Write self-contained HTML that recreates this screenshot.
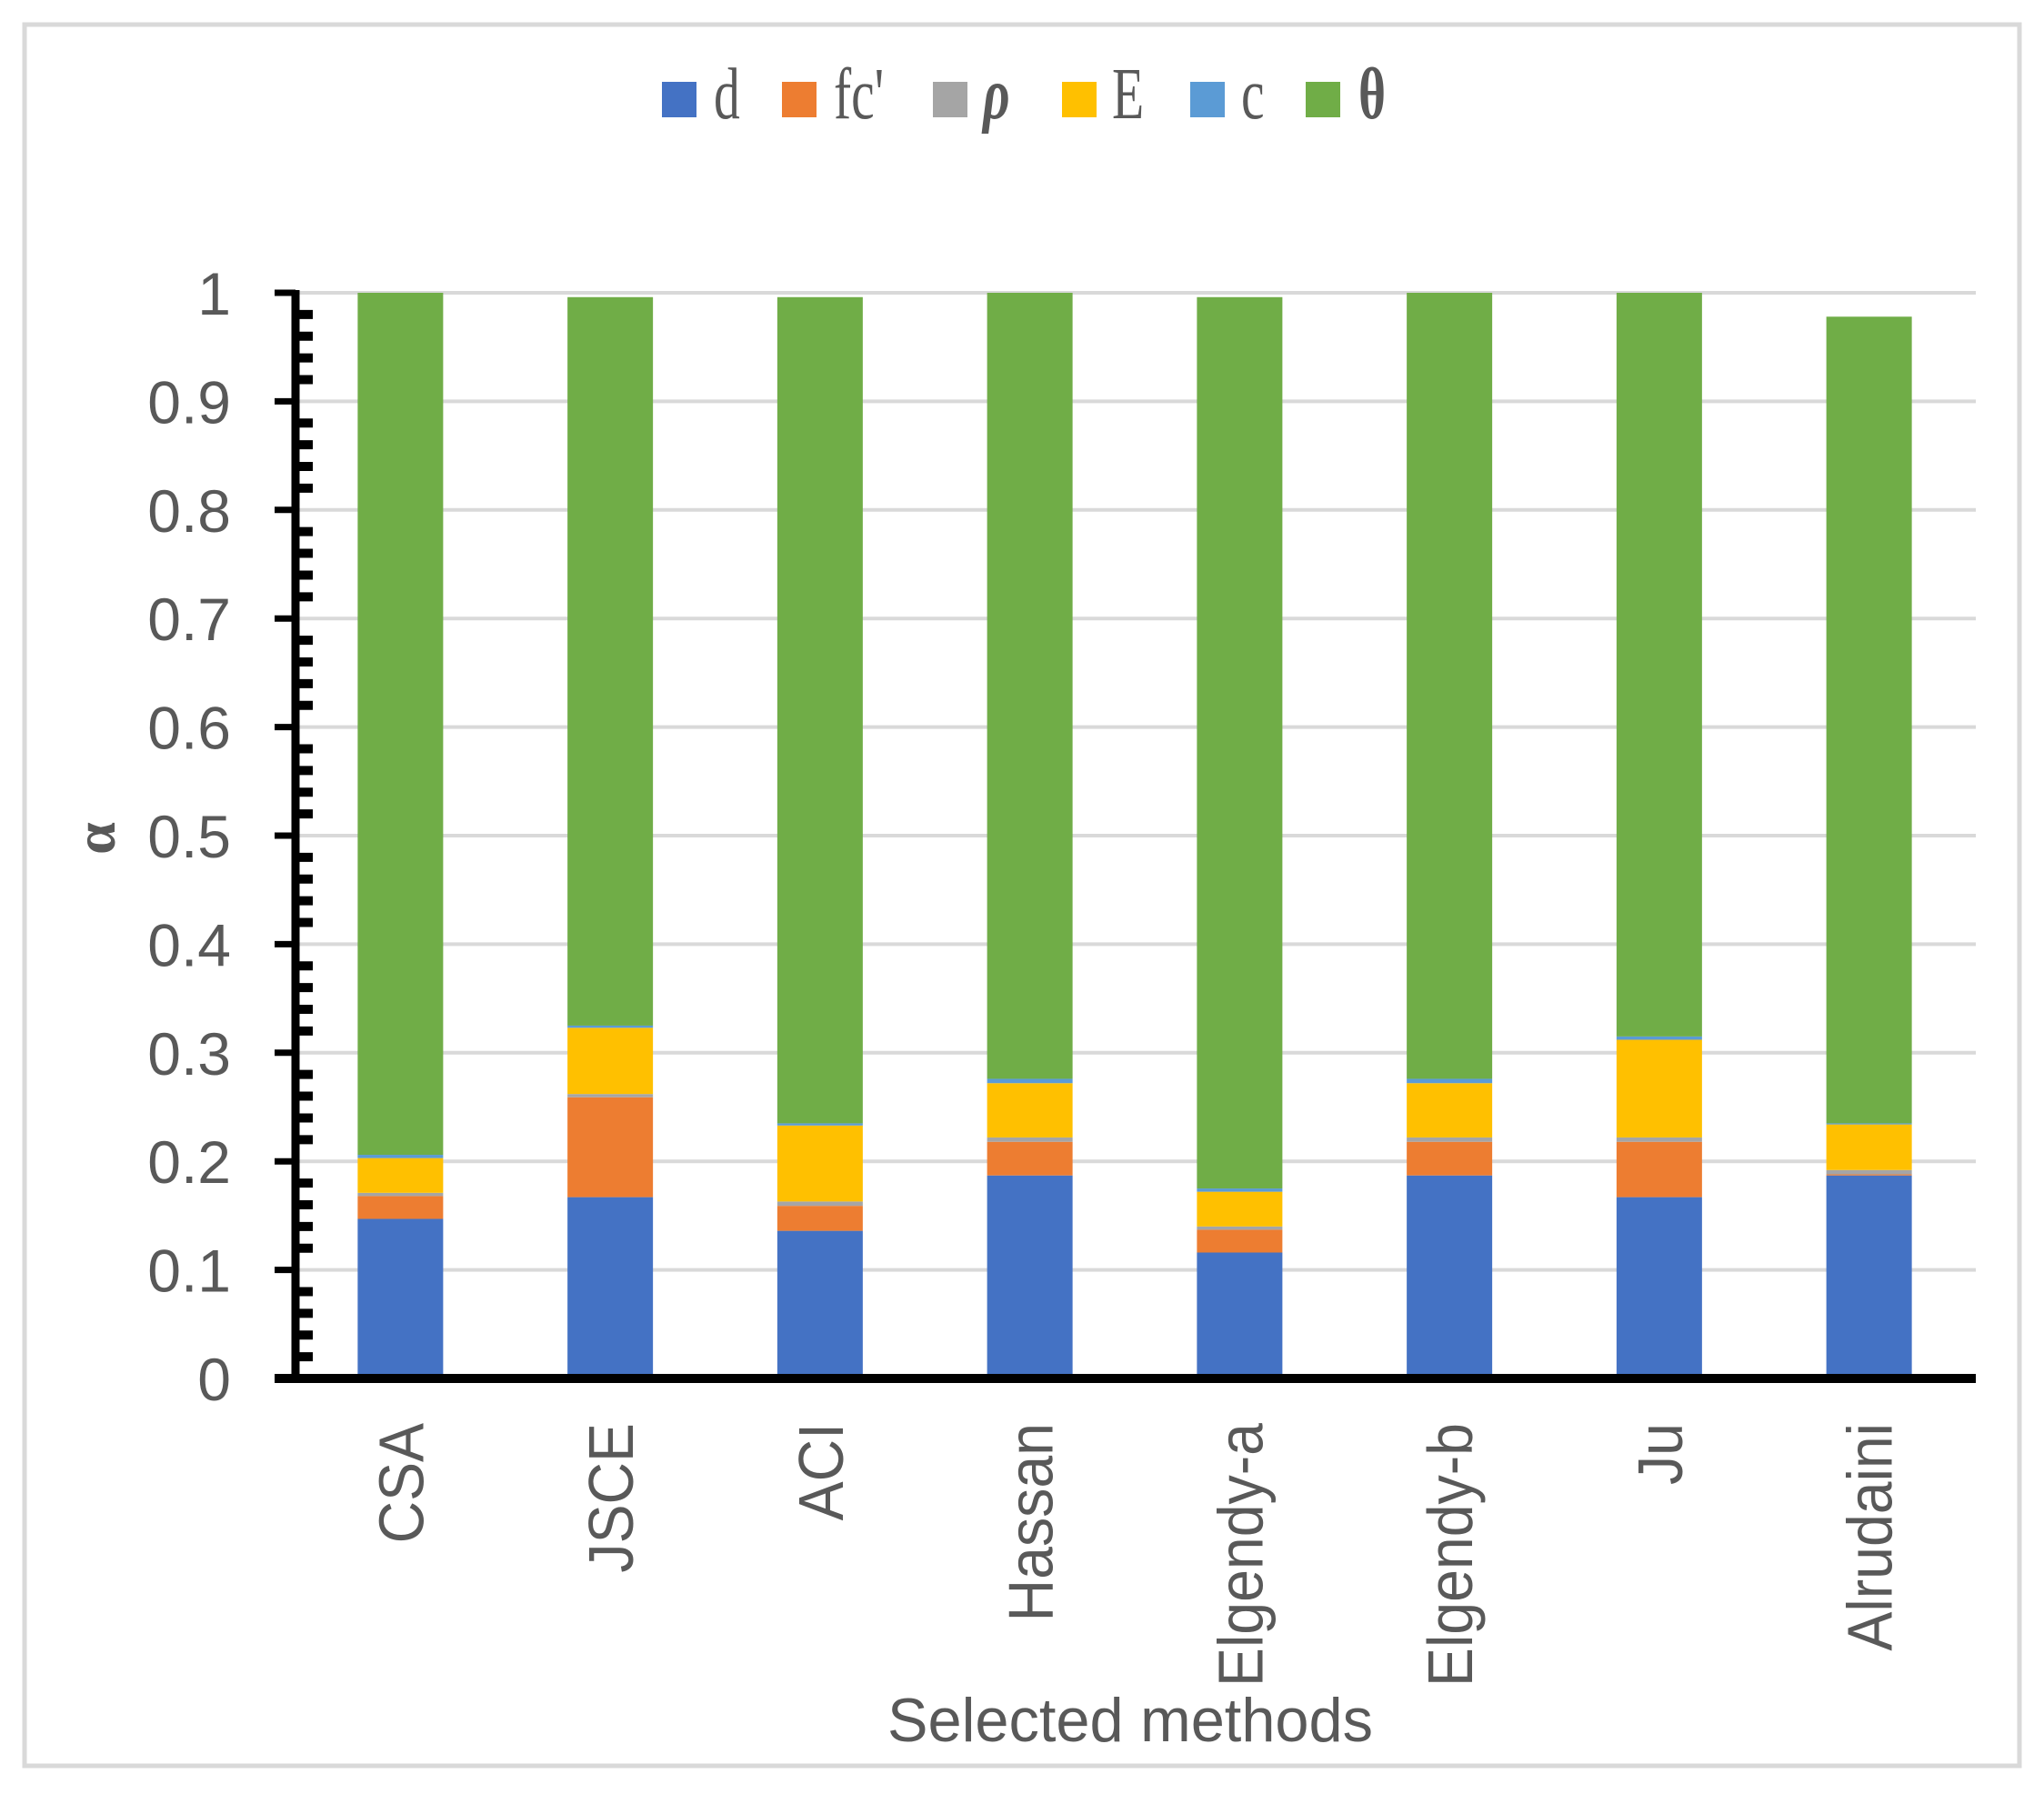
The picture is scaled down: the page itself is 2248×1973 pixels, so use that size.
<!DOCTYPE html>
<html><head><meta charset="utf-8"><style>html,body{margin:0;padding:0;background:#fff}svg{display:block}</style></head>
<body>
<svg id="chart" width="2248" height="1973" viewBox="0 0 2248 1973" xmlns="http://www.w3.org/2000/svg">
<rect x="27" y="27" width="2194" height="1915" fill="#fff" stroke="#d9d9d9" stroke-width="5"/>
<g id="grid"></g><g id="bars"></g><g id="axes"></g><g id="labels"></g>
<g id="legend"></g>
<text transform="translate(126,922) rotate(-90)" text-anchor="middle" font-family="Liberation Serif, serif" font-weight="bold" font-size="64" fill="#595959">α</text>
<text x="1243" y="1915" text-anchor="middle" textLength="534" lengthAdjust="spacingAndGlyphs" font-family="Liberation Sans, sans-serif" font-size="68" fill="#595959">Selected methods</text>
</svg>
<script>
const categories = ["CSA","JSCE","ACI","Hassan","Elgendy-a","Elgendy-b","Ju","Alrudaini"];
const seriesNames = ["d","fc'","ρ","E","c","θ"];
const seriesColors = ["#4472c4","#ed7d31","#a5a5a5","#ffc000","#5b9bd5","#70ad47"];
const dVals     = [0.147,0.167,0.136,0.187,0.116,0.187,0.167,0.187];
const fcVals    = [0.021,0.092,0.023,0.031,0.021,0.031,0.051,0.001];
const rhoVals   = [0.003,0.003,0.004,0.004,0.003,0.004,0.004,0.004];
const eVals     = [0.032,0.061,0.070,0.050,0.032,0.050,0.090,0.042];
const cVals     = [0.003,0.002,0.002,0.004,0.003,0.004,0.003,0.001];
const thetaVals = [0.794,0.671,0.761,0.724,0.821,0.724,0.685,0.743];
const yTicks = ["0","0.1","0.2","0.3","0.4","0.5","0.6","0.7","0.8","0.9","1"];
const series = [dVals,fcVals,rhoVals,eVals,cVals,thetaVals];

const NS="http://www.w3.org/2000/svg";
const X0=325, X1=2171, Y0=1516, Y1=322;
const yS=v=>Y0-v*(Y0-Y1);
const band=(X1-X0)/categories.length;
const xC=i=>X0+band*(i+0.5);
const BW=94;
function mk(tag,attrs,parent){const e=document.createElementNS(NS,tag);for(const k in attrs)e.setAttribute(k,attrs[k]);parent.appendChild(e);return e;}
const grid=document.getElementById('grid'),bars=document.getElementById('bars'),axes=document.getElementById('axes'),labels=document.getElementById('labels'),legend=document.getElementById('legend');

yTicks.forEach((t,i)=>{
  const v=parseFloat(t), y=yS(v);
  if(v>0){const g=mk('line',{x1:X0,x2:X1+2,y1:y,y2:y,stroke:'#d9d9d9','stroke-width':4},grid);
    
    }
  const tk=mk('line',{x1:302,x2:X0,y1:y,y2:y,stroke:'#000','stroke-width':7},axes);
  
  
  const tx=mk('text',{x:254,y:y+24,'text-anchor':'end','font-family':'Liberation Sans, sans-serif','font-size':66,fill:'#595959'},labels);
  tx.textContent=t;
  
  
});
for(let k=1;k<50;k++){ if(k%5===0) continue;
  const y=yS(k*0.02);
  const m=mk('line',{x1:X0,x2:344,y1:y,y2:y,stroke:'#000','stroke-width':10},axes);
  
  
}
categories.forEach((c,i)=>{
  let acc=0;
  series.forEach((s,j)=>{
    const v=s[i]; const yt=yS(acc+v), yb=yS(acc);
    const r=mk('rect',{x:xC(i)-BW/2,y:yt,width:BW,height:Math.max(0,yb-yt),fill:seriesColors[j]},bars);
    
    
    acc+=v;
  });
  const t=mk('text',{transform:`translate(${xC(i)+25},1565) rotate(-90) scale(0.92,1)`,'text-anchor':'end','font-family':'Liberation Sans, sans-serif','font-size':70,fill:'#595959'},labels);
  t.textContent=c;
  
  
});
const ya=mk('line',{x1:X0,x2:X0,y1:Y1-3,y2:Y0+5,stroke:'#000','stroke-width':9},axes);


const xa=mk('line',{x1:302,x2:2173,y1:Y0,y2:Y0,stroke:'#000','stroke-width':10},axes);



const legX=[728,860,1026,1168,1309,1436];
const legTX=[785,917,1081,1223,1365,1494];
seriesNames.forEach((n,j)=>{
  const r=mk('rect',{x:legX[j],y:90,width:38,height:39,fill:seriesColors[j]},legend);
  
  
  const t=mk('text',{transform:`translate(${legTX[j]},130) scale(0.72,1)`,'font-family':'Liberation Serif, serif','font-size':80,fill:'#595959','font-style':j===2?'italic':'normal','font-weight':(j===2||j===5)?'bold':'normal'},legend);
  t.textContent=n;
  
  
});
</script>
</body></html>
